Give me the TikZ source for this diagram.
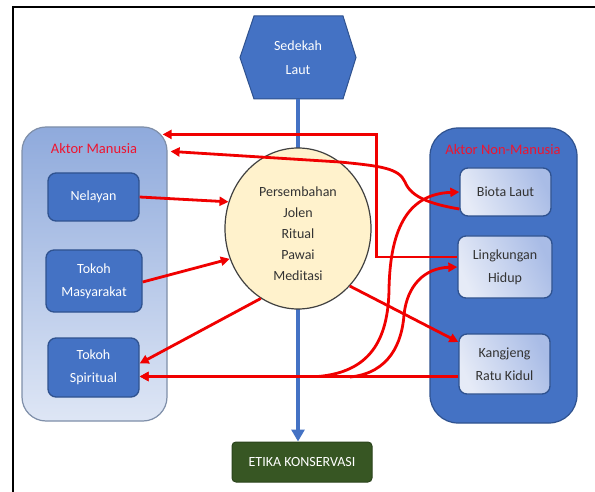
\documentclass[tikz,border=0pt]{standalone}
\usepackage{fontspec}
\setmainfont{Carlito}
\usetikzlibrary{shapes.geometric,arrows.meta,calc}
\definecolor{bl}{HTML}{4472C4}
\definecolor{bldark}{HTML}{2F528F}
\definecolor{lgtop}{HTML}{8FAADC}
\definecolor{lgbot}{HTML}{DEE6F5}
\definecolor{lgedge}{HTML}{7F8FA9}
\definecolor{inlight}{HTML}{E6EBF7}
\definecolor{indark}{HTML}{A9BCE6}
\definecolor{cream}{HTML}{FFF2CC}
\definecolor{grn}{HTML}{375623}
\definecolor{grnedge}{HTML}{2A431B}
\definecolor{rd}{HTML}{F00000}
\definecolor{lbl}{HTML}{EE1530}
\definecolor{txt}{HTML}{333333}
\tikzset{
  big/.style={draw, line width=1.2pt, rounded corners=24pt, inner sep=0pt},
  bluebox/.style={draw=bldark, line width=1.3pt, fill=bl, rounded corners=8pt, inner sep=0pt,
    text=white, align=center, font=\fontsize{14}{23}\selectfont},
  lightbox/.style={draw=bldark, line width=1.3pt, rounded corners=8pt, inner sep=0pt,
    left color=inlight, right color=indark, shading angle=115,
    text=txt, align=center, font=\fontsize{14}{23}\selectfont},
  redarrow/.style={draw=rd, line width=2.8pt, -{Triangle[length=9pt,width=9pt]}},
  redline/.style={draw=rd, line width=2.8pt},
  groupl/.style={text=lbl, font=\fontsize{14.5}{16}\selectfont},
}
\begin{document}
\begin{tikzpicture}[x=1pt,y=-1pt]
\useasboundingbox (0,0) rectangle (595,492);
\fill[white] (0,0) rectangle (595,492);
% frame
\draw[line width=2pt] (13,492) -- (13,7) -- (595,7);
% hexagon
\coordinate (hc) at (298,57.5);
\draw[fill=bl, draw=bldark, line width=1pt]
  ($(hc)+(-58,0)$) -- ($(hc)+(-44,-41.5)$) -- ($(hc)+(45,-41.5)$) -- ($(hc)+(58,0)$)
  -- ($(hc)+(45,41.5)$) -- ($(hc)+(-44,41.5)$) -- cycle;
\node[minimum width=116pt, minimum height=83pt, inner sep=0pt, text=white, align=center,
  font=\fontsize{14}{24}\selectfont] (hex) at (hc) {Sedekah\\Laut};
% bottom box
\node[draw=grnedge, fill=grn, rounded corners=4pt, line width=1pt, minimum width=140pt,
  minimum height=40pt, inner sep=0pt, text=white, font=\fontsize{14}{16}\selectfont]
  (etika) at (302,462) {ETIKA KONSERVASI};
% blue line
\draw[bl, line width=4pt, -{Triangle[length=12pt,width=13pt]}] (hex.south) -- (hex.south |- etika.north);
% group boxes
\node[big, draw=lgedge, top color=lgtop, bottom color=lgbot, minimum width=145pt, minimum height=294pt]
  (lm) at (94.5,274) {};
\node[big, draw=bldark, fill=bl, rounded corners=28pt, minimum width=147pt, minimum height=295pt]
  (rm) at (503.5,275.5) {};
\node[groupl] (lml) at (94,149) {Aktor Manusia};
\node[groupl] (rml) at (503,150) {Aktor Non-Manusia};
% left boxes
\node[bluebox, minimum width=91pt, minimum height=48pt] (nel) at (93.5,197) {Nelayan};
\node[bluebox, minimum width=96pt, minimum height=62pt] (mas) at (94,281) {Tokoh\\Masyarakat};
\node[bluebox, minimum width=91pt, minimum height=59pt] (spi) at (93.5,367.5) {Tokoh\\Spiritual};
% right boxes
\node[lightbox, minimum width=91pt, minimum height=48pt] (bio) at (505.5,192) {Biota Laut};
\node[lightbox, minimum width=94pt, minimum height=62pt] (lin) at (505,267) {Lingkungan\\Hidup};
\node[lightbox, minimum width=91pt, minimum height=60pt] (kan) at (504.5,364) {Kangjeng\\Ratu Kidul};
% circle
\node[ellipse, draw=black!75, line width=1.2pt, fill=cream, minimum width=146pt, minimum height=161pt,
  inner sep=0pt] (circ) at (298,228.5) {};
\node[align=center, text=txt, font=\fontsize{14}{21}\selectfont] (ctext) at (298,234)
  {Persembahan\\Jolen\\Ritual\\Pawai\\Meditasi};
% red arrows
\draw[redarrow] (nel.east) -- (circ.159);
\draw[redarrow] ([yshift=-1pt]mas.east) -- (circ.204);
\draw[redarrow] (circ.242) -- ([yshift=4pt]spi.east);
\draw[redarrow] (circ.312) -- ([yshift=22pt]kan.west);
\draw[redarrow] ([yshift=10pt]lin.west) -- ++(-81,0) |- ([xshift=-5pt,yshift=-8pt]lm.north east);
\draw[redarrow] ([yshift=-17pt]bio.west) .. controls (430,204) and (411,197) .. (405,182)
  .. controls (399,168) and (380,166) .. (340,162) -- ([xshift=3pt,yshift=-25pt]lm.north east);
\draw[redarrow] ([yshift=-12.5pt]kan.west) -- ([yshift=-9pt]spi.east);
\draw[redarrow, {Triangle[length=9pt,width=9pt]}-] ([yshift=-9pt]spi.east) -- (330,376.5);
\coordinate (c1) at (318,376.5);
\coordinate (c2) at (350,377);
\draw[redarrow] (c1) .. controls (370,372) and (388,340) .. (389,290)
  .. controls (390,225) and (410,194) .. (bio.west);
\draw[redarrow] (c2) .. controls (390,373) and (402,342) .. (404,315)
  .. controls (407,285) and (425,268) .. (lin.west);
\end{tikzpicture}
\end{document}
